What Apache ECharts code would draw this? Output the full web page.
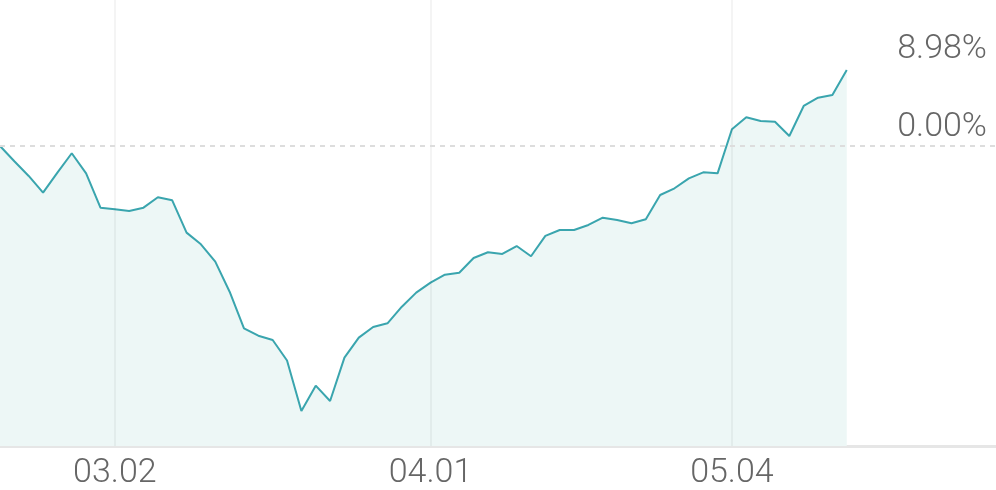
<!DOCTYPE html>
<html>
<head>
    <meta charset="utf-8">
    <script src="https://cdn.jsdelivr.net/npm/echarts@6/dist/echarts.min.js"></script>
    <style>
        html, body { margin: 0; padding: 0; background: #fff; }
    </style>
</head>
<body>
<div id="main" style="width: 996px;height:490px;"></div>
<script type="text/javascript">
    // trading days (MM.DD)
    var dates = [
        '02.19','02.20','02.21','02.24','02.25','02.26','02.27','02.28',
        '03.02','03.03','03.04','03.05','03.06','03.09','03.10','03.11','03.12','03.13',
        '03.16','03.17','03.18','03.19','03.20','03.23','03.24','03.25','03.26','03.27',
        '03.30','03.31',
        '04.01','04.02','04.03','04.06','04.07','04.08','04.09','04.10','04.13','04.14',
        '04.16','04.17','04.20','04.21','04.22','04.23','04.24','04.27','04.28','04.29',
        '04.30',
        '05.04','05.06','05.07','05.08','05.11','05.12','05.13','05.14','05.15'
    ];
    // return since start, %
    var returns = [
        0.00, -1.81, -3.54, -5.52, -3.15, -0.86, -3.23, -7.29,
        -7.48, -7.68, -7.29, -6.06, -6.42, -10.24, -11.62, -13.67, -17.22, -21.54,
        -22.42, -22.92, -25.35, -31.31, -28.32, -30.13, -25.01, -22.65, -21.39, -20.95,
        -18.99, -17.33,
        -16.15, -15.21, -14.97, -13.23, -12.56, -12.76, -11.82, -13.03, -10.63, -9.93,
        -9.93, -9.33, -8.47, -8.74, -9.13, -8.66, -5.79, -5.00, -3.82, -3.11,
        -3.23,
        1.97, 3.39, 2.95, 2.87, 1.18, 4.73, 5.71, 6.03, 8.98
    ];
    var labelDates = ['03.02', '04.01', '05.04'];

    var labelIdx = labelDates.map(function (d) { return dates.indexOf(d); });
    var lastRet = returns[returns.length - 1];
    var seriesData = returns.map(function (v, i) { return [i, v]; });

    var labelFont = {
        fontFamily: 'Roboto',
        fontWeight: 300,
        fontSize: 34,
        color: '#666'
    };

    var vLines = labelIdx.map(function (i) {
        return {
            xAxis: i,
            label: {show: false},
            lineStyle: {color: 'rgba(0,0,0,0.045)', width: 2, type: 'solid'}
        };
    });

    var myChart = echarts.init(document.getElementById('main'));
    var option = {
        animation: false,
        grid: {left: 0, right: 0, top: 0, bottom: 44},
        xAxis: {
            type: 'value',
            min: 0,
            max: 69.4,
            axisLine: {show: true, onZero: false, lineStyle: {color: '#e6e6e6', width: 3}},
            axisTick: {show: false},
            splitLine: {show: false},
            axisLabel: Object.assign({
                customValues: labelIdx,
                margin: 10,
                formatter: function (v) { return dates[v]; }
            }, labelFont)
        },
        yAxis: {
            type: 'value',
            min: -35.45,
            max: 17.25,
            show: false,
            splitLine: {show: false}
        },
        series: [{
            type: 'line',
            data: seriesData,
            symbol: 'none',
            lineStyle: {color: '#3aa5ae', width: 2},
            areaStyle: {color: '#edf7f6', opacity: 1, origin: 'start'},
            markLine: {
                silent: true,
                symbol: 'none',
                data: vLines.concat([
                    {
                        yAxis: 0,
                        lineStyle: {color: '#dddddd', width: 2, type: [5, 5]},
                        label: Object.assign({
                            position: 'insideEndTop',
                            distance: [9, 1],
                            formatter: '0.00%'
                        }, labelFont)
                    },
                    {
                        yAxis: lastRet,
                        lineStyle: {color: 'rgba(0,0,0,0)', width: 1},
                        label: Object.assign({
                            position: 'insideEndTop',
                            distance: [9, 3],
                            formatter: lastRet.toFixed(2) + '%'
                        }, labelFont)
                    }
                ])
            }
        }]
    };
    myChart.setOption(option);
</script>
</body>
</html>
